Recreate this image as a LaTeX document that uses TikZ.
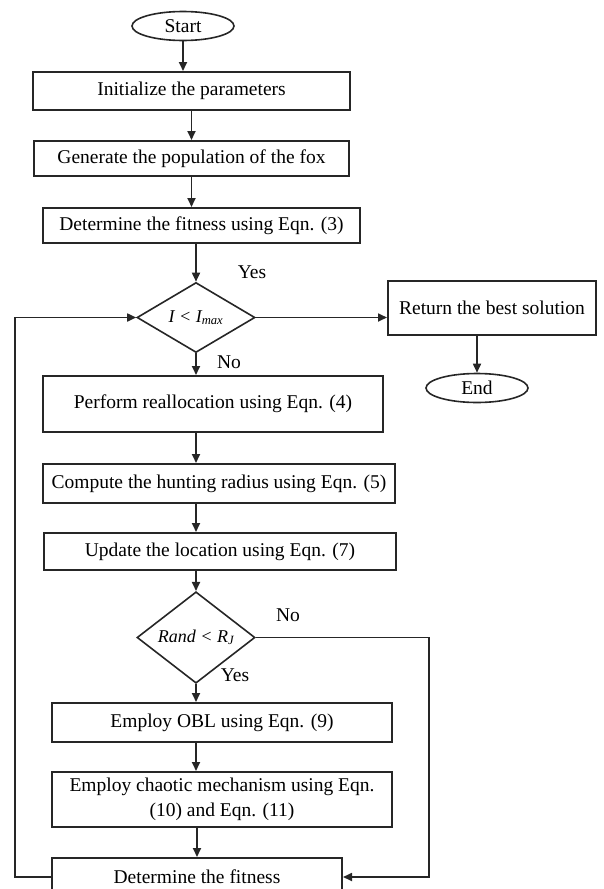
\documentclass[tikz,border=0pt]{standalone}
\usepackage{fontspec}
\setmainfont{Liberation Serif}
\usepackage{tikz}
\usetikzlibrary{shapes.geometric, arrows.meta, positioning}
\definecolor{LineDark}{HTML}{262626}
\tikzset{
  % Box styles
  flowbox/.style={rectangle, draw=LineDark, line width=2pt, fill=white, minimum height=36pt, font=\fontsize{19.5}{25}\selectfont, align=center, inner sep=2pt},
  termnode/.style={ellipse, draw=LineDark, line width=1.6pt, minimum width=102pt, minimum height=29pt, font=\fontsize{19.5}{23}\selectfont, inner sep=0pt},
  decisionnode/.style={diamond, draw=LineDark, line width=1.6pt, minimum width=118pt, minimum height=70pt, inner sep=0pt, font=\fontsize{18}{22}\selectfont\itshape},
  % Arrow styles
  arrow/.style={-{Triangle[length=9pt, width=8pt]}, line width=1.7pt, LineDark},
  % Label styles
  answer/.style={font=\fontsize{19.5}{23}\selectfont}
}

\begin{document}
\begin{tikzpicture}[x=1pt, y=-1pt]
  \useasboundingbox (0,0) rectangle (603,889);
  \clip (0,0) rectangle (603,889);

  % Main column
  \node[termnode] (start) at (183,26) {Start};
  \node[flowbox, minimum width=317pt, minimum height=38pt] (init) at (191.5,91) {Initialize the parameters};
  \node[flowbox, minimum width=315pt, minimum height=35pt] (gen) at (191.5,158.5) {Generate the population of the fox};
  \node[flowbox, minimum width=317pt, minimum height=35pt] (fit1) at (201.5,225.5) {Determine the fitness using Eqn. (3)};
  \node[decisionnode] (cond1) at (196,317.5) {I < I\textsubscript{max}};
  \node[flowbox, minimum width=340pt, minimum height=56pt] (realloc) at (213,404) {Perform reallocation using Eqn. (4)};
  \node[flowbox, minimum width=352pt, minimum height=39pt] (radius) at (219,483.5) {Compute the hunting radius using Eqn. (5)};
  \node[flowbox, minimum width=352pt, minimum height=37pt] (update) at (220,551.5) {Update the location using Eqn. (7)};
  \node[decisionnode] (cond2) at (196,637.5) {Rand < R\textsubscript{J}};
  \node[flowbox, minimum width=340pt, minimum height=39pt] (obl) at (222,722.5) {Employ OBL using Eqn. (9)};
  \node[flowbox, minimum width=340pt, minimum height=55pt] (chaos) at (222,799.5) {Employ chaotic mechanism using Eqn.\\(10) and Eqn. (11)};
  \node[flowbox, minimum width=290pt, minimum height=38pt] (fitness) at (197,877) {Determine the fitness};

  % Exit branch
  \node[flowbox, minimum width=208pt, minimum height=54pt] (ret) at (492,308) {Return the best solution};
  \node[termnode] (finish) at (477,388) {End};

  % Branch labels
  \node[answer] (yes1) at (252,272) {Yes};
  \node[answer] (no1) at (229,362) {No};
  \node[answer] (no2) at (288,615) {No};
  \node[answer] (yes2) at (235,675) {Yes};

  % Rails for the loops
  \coordinate (leftrail) at (15,0);
  \coordinate (rightrail) at (429,0);

  % Connectors
  \draw[arrow] (start.south) -- (start.south |- init.north);
  \draw[arrow] (init) -- (gen);
  \draw[arrow] (gen.south) -- (gen.south |- fit1.north);
  \draw[arrow] (fit1.south -| cond1) -- (cond1.north);
  \draw[arrow] (cond1.south) -- (cond1.south |- realloc.north);
  \draw[arrow] (realloc.south -| cond1) -- (radius.north -| cond1);
  \draw[arrow] (radius.south -| cond1) -- (update.north -| cond1);
  \draw[arrow] (update.south -| cond2) -- (cond2.north);
  \draw[arrow] (cond2.south) -- (cond2.south |- obl.north);
  \draw[arrow] (obl.south -| cond2) -- (chaos.north -| cond2);
  \draw[arrow] (chaos.south -| fitness) -- (fitness.north);
  \draw[arrow] (cond1.east) -- (cond1.east -| ret.west);
  \draw[arrow] (ret.south -| finish) -- (finish.north);
  \draw[arrow] (cond2.east) -- (cond2.east -| rightrail) |- (fitness.east);
  \draw[arrow] (fitness.west) -- (fitness.west -| leftrail) |- (cond1.west);
\end{tikzpicture}
\end{document}
